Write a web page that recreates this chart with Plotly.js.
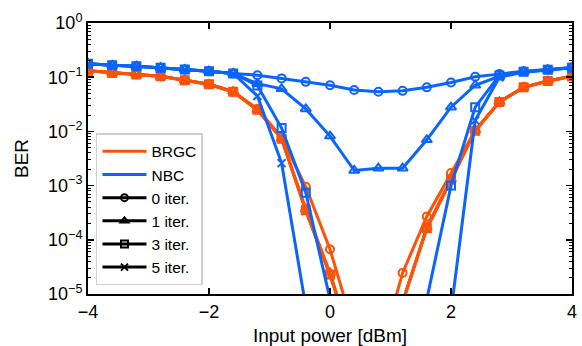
<!DOCTYPE html>
<html>
<head>
<meta charset="utf-8">
<script src="https://cdn.plot.ly/plotly-3.0.1.min.js"></script>
<style>html,body{margin:0;padding:0;background:#fff;}#chart{width:582px;height:346px;}</style>
</head>
<body>
<div id="chart"></div>
<script>
// Input power [dBm]
const inputPower = [-4, -3.6, -3.2, -2.8, -2.4, -2.0, -1.6, -1.2, -0.8, -0.4, 0, 0.4, 0.8, 1.2, 1.6, 2.0, 2.4, 2.8, 3.2, 3.6, 4.0];

// BRGC BER
const brgc0 = [0.131, 0.120, 0.112, 0.104, 0.088, 0.074, 0.054, 0.026, 0.0078, 9.5e-4, 6.7e-5, 2.1e-6, 6.3e-7, 2.45e-5, 2.7e-4, 1.7e-3, 0.0105, 0.035, 0.065, 0.085, 0.104];
const brgc1 = [0.131, 0.120, 0.112, 0.104, 0.088, 0.074, 0.054, 0.025, 0.0074, 3.7e-4, 2.45e-5, 1.0e-6, 3.0e-7, 7.4e-6, 1.7e-4, 1.3e-3, 0.0105, 0.035, 0.065, 0.085, 0.104];
const brgc3 = [0.131, 0.120, 0.112, 0.104, 0.088, 0.074, 0.054, 0.025, 0.0073, 3.5e-4, 2.3e-5, 1.0e-6, 3.0e-7, 7.2e-6, 1.65e-4, 1.28e-3, 0.0103, 0.035, 0.065, 0.085, 0.104];
const brgc5 = [0.131, 0.120, 0.112, 0.104, 0.088, 0.074, 0.054, 0.025, 0.0073, 3.4e-4, 2.2e-5, 1.0e-6, 3.0e-7, 7.0e-6, 1.6e-4, 1.25e-3, 0.0102, 0.035, 0.065, 0.085, 0.104];

// NBC BER
const nbc0 = [0.178, 0.166, 0.160, 0.150, 0.138, 0.129, 0.117, 0.109, 0.095, 0.082, 0.071, 0.058, 0.054, 0.056, 0.065, 0.080, 0.102, 0.114, 0.129, 0.139, 0.151];
const nbc1 = [0.178, 0.166, 0.160, 0.150, 0.138, 0.129, 0.117, 0.076, 0.061, 0.026, 0.0082, 0.0019, 0.0021, 0.0021, 0.0070, 0.028, 0.071, 0.104, 0.125, 0.137, 0.150];
const nbc3 = [0.178, 0.166, 0.160, 0.150, 0.138, 0.129, 0.117, 0.070, 0.0115, 7.4e-4, 8.0e-6, 1.0e-7, 1.0e-8, 1.0e-7, 8.0e-6, 1.0e-3, 0.028, 0.108, 0.126, 0.137, 0.150];
const nbc5 = [0.178, 0.166, 0.160, 0.150, 0.138, 0.129, 0.117, 0.045, 0.0026, 5.8e-6, 1.0e-7, 1.0e-8, 1.0e-8, 1.0e-8, 1.0e-7, 4.7e-6, 0.016, 0.100, 0.124, 0.136, 0.150];

const iterLabels = ['0 iter.', '1 iter.', '3 iter.', '5 iter.'];
const yTickLabels = ['10<sup>0</sup>', '10<sup>\u22121</sup>', '10<sup>\u22122</sup>', '10<sup>\u22123</sup>', '10<sup>\u22124</sup>', '10<sup>\u22125</sup>'];
const xTickVals = [-4, -2, 0, 2, 4];

const ORANGE = '#FF5208';
const BLUE = '#0A64FF';
const symbols = ['circle-open', 'triangle-up-open', 'square-open', 'x-thin-open'];

function series(y, color, sym) {
  return {
    x: inputPower, y: y, type: 'scatter', mode: 'lines+markers', showlegend: false,
    line: {color: color, width: 3},
    marker: {symbol: sym, size: sym === 'triangle-up-open' ? 9 : 8, color: color, line: {color: color, width: 2}},
    cliponaxis: true
  };
}

const traces = [];
[brgc0, brgc1, brgc3, brgc5].forEach((y, i) => traces.push(series(y, ORANGE, symbols[i])));
[nbc0, nbc1, nbc3, nbc5].forEach((y, i) => traces.push(series(y, BLUE, symbols[i])));

// legend entries
traces.push({x: [null], y: [null], type: 'scatter', mode: 'lines', name: 'BRGC', line: {color: ORANGE, width: 3}});
traces.push({x: [null], y: [null], type: 'scatter', mode: 'lines', name: 'NBC', line: {color: BLUE, width: 3}});
iterLabels.forEach((lab, i) => traces.push({
  x: [null], y: [null], type: 'scatter', mode: 'lines+markers', name: lab,
  line: {color: 'black', width: 3},
  marker: {symbol: symbols[i], size: 7, color: 'black', line: {color: 'black', width: 2}}
}));

const yTickVals = [];
for (let i = 0; i <= 5; i++) yTickVals.push(Math.pow(10, -i));
const yMinor = [];
for (let e = -5; e < 0; e++) for (let d = 2; d <= 9; d++) yMinor.push(d * Math.pow(10, e));

const FONT = 'Liberation Sans, Arial, sans-serif';

const layout = {
  width: 582, height: 346,
  margin: {l: 88, r: 10, t: 23, b: 52},
  paper_bgcolor: '#fff', plot_bgcolor: '#fff',
  font: {family: FONT, color: '#000'},
  showlegend: true,
  xaxis: {
    range: [-4, 4], tickmode: 'array', tickvals: xTickVals,
    ticks: 'inside', ticklen: 6, tickwidth: 1.5, tickcolor: '#000',
    showline: true, linewidth: 2, linecolor: '#000', mirror: 'ticks',
    showgrid: false, zeroline: false,
    tickfont: {size: 18, family: FONT},
    title: {text: 'Input power [dBm]', font: {size: 19, family: FONT}, standoff: 12}
  },
  yaxis: {
    type: 'log', range: [-5, 0], tickmode: 'array', tickvals: yTickVals, ticktext: yTickLabels,
    ticks: 'inside', ticklen: 6, tickwidth: 1.5, tickcolor: '#000',
    showline: true, linewidth: 2, linecolor: '#000', mirror: 'ticks',
    showgrid: false, zeroline: false,
    tickfont: {size: 18, family: FONT},
    minor: {tickmode: 'array', tickvals: yMinor, ticks: 'inside', ticklen: 3, tickwidth: 1, tickcolor: '#000', showgrid: false},
    title: {text: 'BER', font: {size: 19, family: FONT}, standoff: 14}
  },
  legend: {
    x: 0.0165, y: 0.593, xanchor: 'left', yanchor: 'top',
    bgcolor: 'rgba(255,255,255,0.85)', bordercolor: '#cfcfcf', borderwidth: 1.5,
    font: {size: 15.5, family: FONT}, tracegroupgap: 0, itemwidth: 44
  }
};

Plotly.newPlot('chart', traces, layout, {displayModeBar: false, staticPlot: true});
</script>
</body>
</html>
